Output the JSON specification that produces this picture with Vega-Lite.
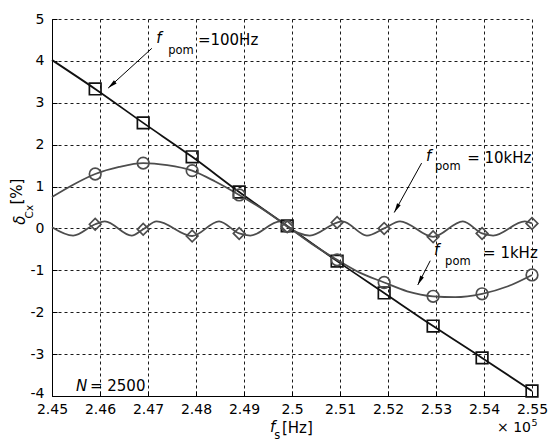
{
  "$schema": "https://vega.github.io/schema/vega-lite/v6.json",
  "width": 480,
  "height": 377,
  "autosize": {"type": "none"},
  "padding": {"left": 52, "top": 19, "right": 21, "bottom": 45},
  "background": "white",
  "config": {
    "view": {"stroke": null},
    "font": "DejaVu Sans",
    "text": {"font": "DejaVu Sans", "color": "black"}
  },
  "datasets": {
    "lines": [
      {"series": "100 Hz", "fs": 2.45, "delta": 4.02},
      {"series": "100 Hz", "fs": 2.459, "delta": 3.33},
      {"series": "100 Hz", "fs": 2.469, "delta": 2.52},
      {"series": "100 Hz", "fs": 2.4792, "delta": 1.71},
      {"series": "100 Hz", "fs": 2.489, "delta": 0.87},
      {"series": "100 Hz", "fs": 2.499, "delta": 0.06},
      {"series": "100 Hz", "fs": 2.5094, "delta": -0.78},
      {"series": "100 Hz", "fs": 2.5192, "delta": -1.54},
      {"series": "100 Hz", "fs": 2.5294, "delta": -2.33},
      {"series": "100 Hz", "fs": 2.5396, "delta": -3.09},
      {"series": "100 Hz", "fs": 2.55, "delta": -3.88},
      {"series": "1 kHz", "fs": 2.45, "delta": 0.75},
      {"series": "1 kHz", "fs": 2.4545, "delta": 1.05},
      {"series": "1 kHz", "fs": 2.459, "delta": 1.30},
      {"series": "1 kHz", "fs": 2.464, "delta": 1.47},
      {"series": "1 kHz", "fs": 2.469, "delta": 1.56},
      {"series": "1 kHz", "fs": 2.474, "delta": 1.51},
      {"series": "1 kHz", "fs": 2.4792, "delta": 1.38},
      {"series": "1 kHz", "fs": 2.484, "delta": 1.12},
      {"series": "1 kHz", "fs": 2.489, "delta": 0.80},
      {"series": "1 kHz", "fs": 2.494, "delta": 0.45},
      {"series": "1 kHz", "fs": 2.499, "delta": 0.05},
      {"series": "1 kHz", "fs": 2.504, "delta": -0.36},
      {"series": "1 kHz", "fs": 2.5094, "delta": -0.75},
      {"series": "1 kHz", "fs": 2.514, "delta": -1.05},
      {"series": "1 kHz", "fs": 2.5192, "delta": -1.29},
      {"series": "1 kHz", "fs": 2.524, "delta": -1.50},
      {"series": "1 kHz", "fs": 2.5294, "delta": -1.62},
      {"series": "1 kHz", "fs": 2.534, "delta": -1.64},
      {"series": "1 kHz", "fs": 2.5396, "delta": -1.56},
      {"series": "1 kHz", "fs": 2.545, "delta": -1.38},
      {"series": "1 kHz", "fs": 2.55, "delta": -1.11},
      {"series": "10 kHz", "fs": 2.45, "delta": 0.03},
      {"series": "10 kHz", "fs": 2.4544, "delta": -0.17},
      {"series": "10 kHz", "fs": 2.459, "delta": 0.10},
      {"series": "10 kHz", "fs": 2.461, "delta": 0.17},
      {"series": "10 kHz", "fs": 2.4666, "delta": -0.17},
      {"series": "10 kHz", "fs": 2.469, "delta": -0.02},
      {"series": "10 kHz", "fs": 2.4718, "delta": 0.17},
      {"series": "10 kHz", "fs": 2.4792, "delta": -0.18},
      {"series": "10 kHz", "fs": 2.4848, "delta": 0.17},
      {"series": "10 kHz", "fs": 2.489, "delta": -0.12},
      {"series": "10 kHz", "fs": 2.4913, "delta": -0.17},
      {"series": "10 kHz", "fs": 2.4975, "delta": 0.17},
      {"series": "10 kHz", "fs": 2.499, "delta": 0.04},
      {"series": "10 kHz", "fs": 2.5037, "delta": -0.17},
      {"series": "10 kHz", "fs": 2.5094, "delta": 0.14},
      {"series": "10 kHz", "fs": 2.5105, "delta": 0.17},
      {"series": "10 kHz", "fs": 2.5156, "delta": -0.17},
      {"series": "10 kHz", "fs": 2.5192, "delta": 0.0},
      {"series": "10 kHz", "fs": 2.5225, "delta": 0.17},
      {"series": "10 kHz", "fs": 2.5294, "delta": -0.20},
      {"series": "10 kHz", "fs": 2.5356, "delta": 0.17},
      {"series": "10 kHz", "fs": 2.5396, "delta": -0.12},
      {"series": "10 kHz", "fs": 2.5419, "delta": -0.17},
      {"series": "10 kHz", "fs": 2.5485, "delta": 0.17},
      {"series": "10 kHz", "fs": 2.55, "delta": 0.12}
    ],
    "markers": [
      {"series": "100 Hz", "fs": 2.459, "delta": 3.33},
      {"series": "100 Hz", "fs": 2.469, "delta": 2.52},
      {"series": "100 Hz", "fs": 2.4792, "delta": 1.71},
      {"series": "100 Hz", "fs": 2.489, "delta": 0.87},
      {"series": "100 Hz", "fs": 2.499, "delta": 0.06},
      {"series": "100 Hz", "fs": 2.5094, "delta": -0.78},
      {"series": "100 Hz", "fs": 2.5192, "delta": -1.54},
      {"series": "100 Hz", "fs": 2.5294, "delta": -2.33},
      {"series": "100 Hz", "fs": 2.5396, "delta": -3.09},
      {"series": "100 Hz", "fs": 2.55, "delta": -3.88},
      {"series": "1 kHz", "fs": 2.459, "delta": 1.30},
      {"series": "1 kHz", "fs": 2.469, "delta": 1.56},
      {"series": "1 kHz", "fs": 2.4792, "delta": 1.38},
      {"series": "1 kHz", "fs": 2.489, "delta": 0.80},
      {"series": "1 kHz", "fs": 2.499, "delta": 0.05},
      {"series": "1 kHz", "fs": 2.5094, "delta": -0.75},
      {"series": "1 kHz", "fs": 2.5192, "delta": -1.29},
      {"series": "1 kHz", "fs": 2.5294, "delta": -1.62},
      {"series": "1 kHz", "fs": 2.5396, "delta": -1.56},
      {"series": "1 kHz", "fs": 2.55, "delta": -1.11},
      {"series": "10 kHz", "fs": 2.459, "delta": 0.10},
      {"series": "10 kHz", "fs": 2.469, "delta": -0.02},
      {"series": "10 kHz", "fs": 2.4792, "delta": -0.18},
      {"series": "10 kHz", "fs": 2.489, "delta": -0.12},
      {"series": "10 kHz", "fs": 2.499, "delta": 0.04},
      {"series": "10 kHz", "fs": 2.5094, "delta": 0.14},
      {"series": "10 kHz", "fs": 2.5192, "delta": 0.0},
      {"series": "10 kHz", "fs": 2.5294, "delta": -0.20},
      {"series": "10 kHz", "fs": 2.5396, "delta": -0.12},
      {"series": "10 kHz", "fs": 2.55, "delta": 0.12}
    ],
    "arrows": [
      {"label": "100 Hz", "fs": 2.4708, "delta": 4.30, "fs2": 2.4617, "delta2": 3.35, "dir": 228.7},
      {"label": "10 kHz", "fs": 2.527, "delta": 1.56, "fs2": 2.5213, "delta2": 0.38, "dir": 209.3},
      {"label": "1 kHz", "fs": 2.5288, "delta": -0.77, "fs2": 2.5262, "delta2": -1.35, "dir": 206.8}
    ],
    "italic": [
      {"t": "f", "fs": 2.4717, "delta": 4.54},
      {"t": "f", "fs": 2.5279, "delta": 1.73},
      {"t": "f", "fs": 2.5296, "delta": -0.52},
      {"t": "N", "fs": 2.4550, "delta": -3.76},
      {"t": "f", "fs": 2.4954, "delta": -4.74}
    ],
    "normal": [
      {"t": "=100Hz", "fs": 2.4804, "delta": 4.50},
      {"t": "= 10kHz", "fs": 2.5365, "delta": 1.69},
      {"t": "= 1kHz", "fs": 2.5398, "delta": -0.585},
      {"t": "= 2500", "fs": 2.4579, "delta": -3.76},
      {"t": "[Hz]", "fs": 2.4979, "delta": -4.76}
    ],
    "exponent": [
      {"t": "× 10", "fs": 2.5427, "delta": -4.76}
    ],
    "small": [
      {"t": "pom", "fs": 2.4742, "delta": 4.24},
      {"t": "pom", "fs": 2.5298, "delta": 1.47},
      {"t": "pom", "fs": 2.5319, "delta": -0.81},
      {"t": "s", "fs": 2.4963, "delta": -4.95}
    ],
    "superscript": [
      {"t": "5", "fs": 2.5499, "delta": -4.65}
    ],
    "ytitle": [
      {"t": "δ", "fs": 2.4433, "delta": 0.20, "kind": "italic"},
      {"t": "Cx", "fs": 2.4455, "delta": 0.40, "kind": "small"},
      {"t": "[%]", "fs": 2.4428, "delta": 0.88, "kind": "normal"}
    ]
  },
  "layer": [
    {
      "data": {"name": "lines"},
      "mark": {"type": "line", "interpolate": "monotone", "strokeWidth": 1.8},
      "encoding": {
        "x": {
          "field": "fs", "type": "quantitative",
          "scale": {"domain": [2.45, 2.55], "nice": false, "zero": false},
          "axis": {
            "title": null,
            "values": [2.45, 2.46, 2.47, 2.48, 2.49, 2.5, 2.51, 2.52, 2.53, 2.54, 2.55],
            "labelExpr": "format(datum.value, '.2~f')",
            "grid": true, "gridDash": [3, 3], "gridColor": "black", "gridWidth": 0.9,
            "domainColor": "black", "tickColor": "black", "tickSize": -5,
            "labelFontSize": 14, "labelColor": "black", "labelPadding": 11,
            "labelFont": "DejaVu Sans", "labelFlush": false
          }
        },
        "y": {
          "field": "delta", "type": "quantitative",
          "scale": {"domain": [-4, 5], "nice": false, "zero": false},
          "axis": {
            "title": null,
            "values": [-4, -3, -2, -1, 0, 1, 2, 3, 4, 5],
            "labelExpr": "'' + datum.value",
            "labelOffset": {"condition": {"test": "datum.value == -4", "value": -3}, "value": 0},
            "grid": true, "gridDash": [3, 3], "gridColor": "black", "gridWidth": 0.9,
            "domainColor": "black", "tickColor": "black", "tickSize": -5,
            "labelFontSize": 14, "labelColor": "black", "labelPadding": 13,
            "labelFont": "DejaVu Sans"
          }
        },
        "color": {
          "field": "series", "type": "nominal",
          "scale": {"domain": ["100 Hz", "1 kHz", "10 kHz"], "range": ["#111111", "#4d4d4d", "#4d4d4d"]},
          "legend": null
        }
      }
    },
    {
      "data": {"name": "markers"},
      "mark": {"type": "point", "filled": false, "strokeWidth": 1.7, "size": 135, "opacity": 1},
      "encoding": {
        "x": {"field": "fs", "type": "quantitative"},
        "y": {"field": "delta", "type": "quantitative"},
        "color": {"field": "series", "type": "nominal", "legend": null},
        "shape": {
          "field": "series", "type": "nominal",
          "scale": {"domain": ["100 Hz", "1 kHz", "10 kHz"], "range": ["square", "circle", "diamond"]},
          "legend": null
        }
      }
    },
    {
      "data": {"name": "arrows"},
      "mark": {"type": "rule", "color": "black", "strokeWidth": 1},
      "encoding": {
        "x": {"field": "fs", "type": "quantitative"},
        "y": {"field": "delta", "type": "quantitative"},
        "x2": {"field": "fs2"},
        "y2": {"field": "delta2"}
      }
    },
    {
      "data": {"name": "arrows"},
      "mark": {"type": "point", "shape": "M0,0L0.35,1.6L-0.35,1.6Z", "filled": true, "color": "black", "size": 140, "opacity": 1},
      "encoding": {
        "x": {"field": "fs2", "type": "quantitative"},
        "y": {"field": "delta2", "type": "quantitative"},
        "angle": {"field": "dir", "type": "quantitative", "scale": null}
      }
    },
    {
      "data": {"name": "italic"},
      "mark": {"type": "text", "align": "left", "baseline": "middle", "fontSize": 15, "fontStyle": "italic"},
      "encoding": {
        "x": {"field": "fs", "type": "quantitative"},
        "y": {"field": "delta", "type": "quantitative"},
        "text": {"field": "t"}
      }
    },
    {
      "data": {"name": "normal"},
      "mark": {"type": "text", "align": "left", "baseline": "middle", "fontSize": 15},
      "encoding": {
        "x": {"field": "fs", "type": "quantitative"},
        "y": {"field": "delta", "type": "quantitative"},
        "text": {"field": "t"}
      }
    },
    {
      "data": {"name": "exponent"},
      "mark": {"type": "text", "align": "left", "baseline": "middle", "fontSize": 14},
      "encoding": {
        "x": {"field": "fs", "type": "quantitative"},
        "y": {"field": "delta", "type": "quantitative"},
        "text": {"field": "t"}
      }
    },
    {
      "data": {"name": "small"},
      "mark": {"type": "text", "align": "left", "baseline": "middle", "fontSize": 11.5},
      "encoding": {
        "x": {"field": "fs", "type": "quantitative"},
        "y": {"field": "delta", "type": "quantitative"},
        "text": {"field": "t"}
      }
    },
    {
      "data": {"name": "superscript"},
      "mark": {"type": "text", "align": "left", "baseline": "middle", "fontSize": 9.5},
      "encoding": {
        "x": {"field": "fs", "type": "quantitative"},
        "y": {"field": "delta", "type": "quantitative"},
        "text": {"field": "t"}
      }
    },
    {
      "data": {"name": "ytitle"},
      "transform": [{"filter": "datum.kind == 'italic'"}],
      "mark": {"type": "text", "align": "center", "baseline": "middle", "fontSize": 15, "fontStyle": "italic", "angle": 270},
      "encoding": {
        "x": {"field": "fs", "type": "quantitative"},
        "y": {"field": "delta", "type": "quantitative"},
        "text": {"field": "t"}
      }
    },
    {
      "data": {"name": "ytitle"},
      "transform": [{"filter": "datum.kind == 'small'"}],
      "mark": {"type": "text", "align": "center", "baseline": "middle", "fontSize": 10.5, "angle": 270},
      "encoding": {
        "x": {"field": "fs", "type": "quantitative"},
        "y": {"field": "delta", "type": "quantitative"},
        "text": {"field": "t"}
      }
    },
    {
      "data": {"name": "ytitle"},
      "transform": [{"filter": "datum.kind == 'normal'"}],
      "mark": {"type": "text", "align": "center", "baseline": "middle", "fontSize": 15, "angle": 270},
      "encoding": {
        "x": {"field": "fs", "type": "quantitative"},
        "y": {"field": "delta", "type": "quantitative"},
        "text": {"field": "t"}
      }
    }
  ]
}
